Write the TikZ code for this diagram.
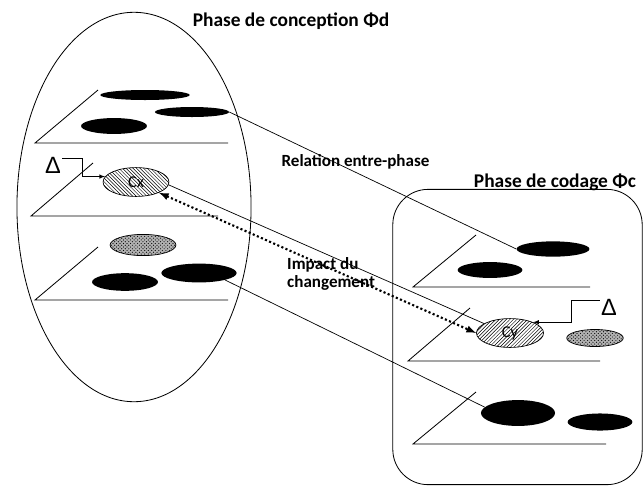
\documentclass[tikz,border=0pt]{standalone}
\usepackage{fontspec}
\setmainfont{Carlito}
\newfontfamily\deltafont{Liberation Sans}
\usetikzlibrary{shapes,arrows,positioning,patterns}
\tikzstyle{phasetitre} = [font=\bfseries\fontsize{16.5}{18}\selectfont, inner sep=0pt]
\tikzstyle{lien} = [font=\bfseries\fontsize{14.5}{16}\selectfont, align=left, inner sep=0pt]
\tikzstyle{noir} = [ellipse, fill=black, inner sep=0pt]
\tikzstyle{gris} = [ellipse, draw, line width=0.6pt, pattern=crosshatch dots, preaction={fill=gray!60}, inner sep=0pt]
\tikzstyle{comp} = [ellipse, draw, line width=0.6pt, inner sep=0pt, font=\fontsize{14}{15}\selectfont]
\tikzstyle{plan} = [line width=0.7pt]
\tikzstyle{delta} = [font=\deltafont\fontsize{20}{20}\selectfont, inner sep=1pt]
\tikzstyle{fleche} = [-latex, line width=0.7pt]
\tikzstyle{liaison} = [line width=0.6pt]
\tikzstyle{impact} = [latex-latex, dotted, line width=1.8pt]

\begin{document}
\begin{tikzpicture}[x=0.85pt, y=-0.85pt]
	\useasboundingbox (0,0) rectangle (644,487);
	\node[draw, ellipse, line width=0.7pt, minimum width=199pt, minimum height=331pt] (phased) at (134,207) {};
	\node[draw, line width=0.7pt, rounded corners=30pt, minimum width=212pt, minimum height=251pt] (phasec) at (517.5,337) {};
	\node[phasetitre] (titred) at (291,21) {Phase de conception Φd};
	\node[phasetitre] (titrec) at (555,182) {Phase de codage Φc};
	
	\draw[plan] (98,90) -- (35,143) -- (228,143);
	\draw[plan] (93,163) -- (31,216) -- (218,216);
	\draw[plan] (98,247) -- (35,300) -- (228,300);
	\draw[plan] (476,235) -- (413,287) -- (590,287);
	\draw[plan] (470,308) -- (408,361) -- (600,361);
	\draw[plan] (476,392) -- (413,444) -- (606,444);
	
	\node[noir, minimum width=76pt, minimum height=8.5pt] (d1a) at (145,95) {};
	\node[noir, minimum width=63pt, minimum height=8.5pt] (d1b) at (192,112) {};
	\node[noir, minimum width=56pt, minimum height=13.5pt] (d1c) at (114,126) {};
	\node[comp, pattern=north west lines, minimum width=56pt, minimum height=24.5pt] (cx) at (136,182) {Cx};
	\node[gris, minimum width=56pt, minimum height=18pt] (d3a) at (143,245) {};
	\node[noir, minimum width=56pt, minimum height=15pt] (d3b) at (125,282) {};
	\node[noir, minimum width=64pt, minimum height=16pt] (d3c) at (199,273) {};
	
	\node[noir, minimum width=62pt, minimum height=13pt] (c1a) at (553,249) {};
	\node[noir, minimum width=55pt, minimum height=13.5pt] (c1b) at (490,270) {};
	\node[comp, pattern=north east lines, minimum width=57pt, minimum height=24.5pt] (cy) at (510,333) {Cy};
	\node[gris, minimum width=48pt, minimum height=14.5pt] (c2a) at (595,338) {};
	\node[noir, minimum width=63pt, minimum height=22pt] (c3a) at (518,413) {};
	\node[noir, minimum width=55pt, minimum height=14.5pt] (c3b) at (600,422) {};
	
	\node[delta] (dx) at (53,165) {Δ};
	\node[delta] (dy) at (609,307) {Δ};
	\draw[fleche] ([yshift=6pt]dx.east) -- ++(20,0) |- (cx.170);
	\draw[fleche] ([yshift=6pt]dy.west) -- ++(-28,0) |- (cy.25);
	
	\node[lien] (relation) at (355.5,162) {Relation entre-phase};
	\node[lien, anchor=west] (impact) at (287,274) {Impact du\\changement};
	
	\draw[liaison] (d1b.east) -- (c1a.west);
	\draw[liaison] (cx.-5) -- (cy.160);
	\draw[impact] (cx.-25) -- (cy.west);
	\draw[liaison] (d3c.-15) -- (c3a.170);
\end{tikzpicture}
\end{document}
